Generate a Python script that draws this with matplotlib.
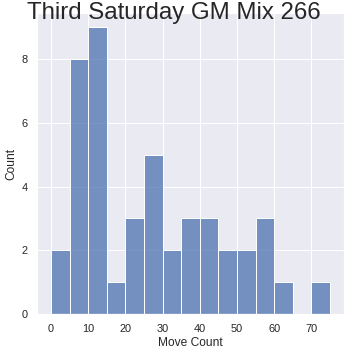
import matplotlib
matplotlib.use("Agg")
import matplotlib.pyplot as plt
import seaborn as sns
import numpy as np

bin_edges = [0, 5, 10, 15, 20, 25, 30, 35, 40, 45, 50, 55, 60, 65, 70, 75]
counts = [2, 8, 9, 1, 3, 5, 2, 3, 3, 2, 2, 3, 1, 0, 1]
title = "Third Saturday GM Mix 266"

sns.set_theme(style="darkgrid")
plt.rcParams['font.family'] = ['Liberation Sans', 'DejaVu Sans']

fig = plt.figure(figsize=(348/72, 354/72), dpi=72)
ax = fig.add_axes([37/348, 1-314/354, (344-37)/348, (314-13)/354])
centers = [(bin_edges[i] + bin_edges[i+1]) / 2 for i in range(len(counts))]
sns.histplot(x=centers, weights=counts, bins=bin_edges, ax=ax)
ax.set_xlabel("Move Count")
ax.set_ylabel("Count")
ax.set_xticks([0, 10, 20, 30, 40, 50, 60, 70])
fig.suptitle(title, fontsize=24, y=0.995)
fig.savefig("out.png", dpi=72)
